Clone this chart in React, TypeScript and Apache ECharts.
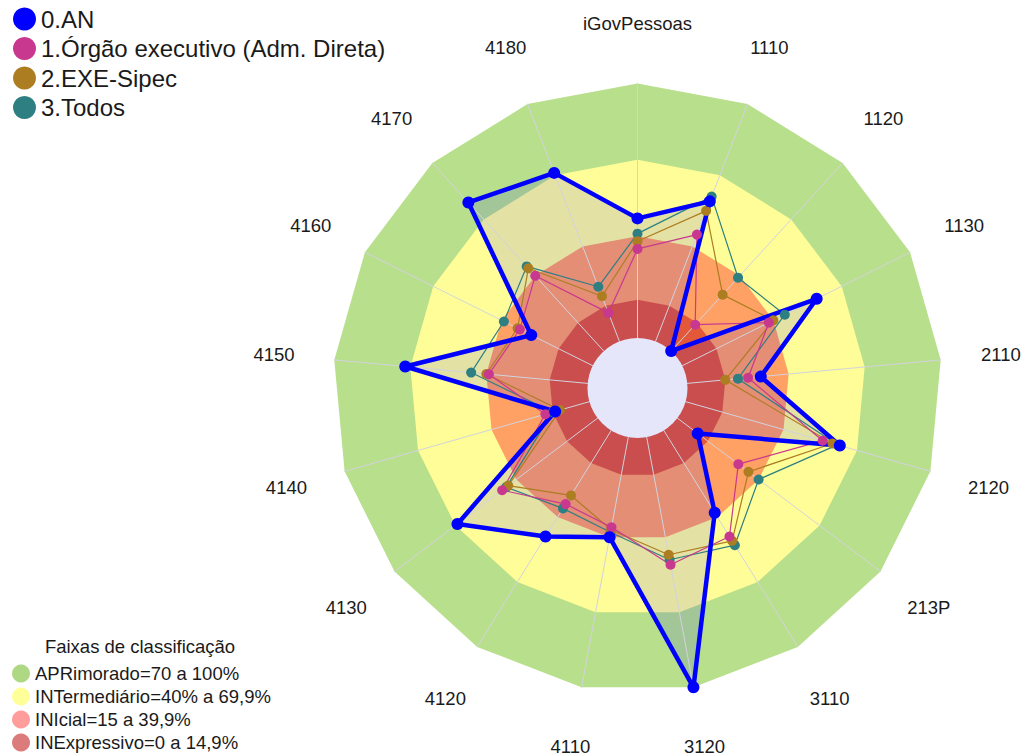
import React, { useEffect, useRef } from "react";
import * as echarts from "echarts";

// Axis categories, clockwise from the top
const categories = [
  "iGovPessoas", "1110", "1120", "1130", "2110", "2120", "213P", "3110", "3120",
  "4110", "4120", "4130", "4140", "4150", "4160", "4170", "4180",
];

const seriesNames = ["0.AN", "1.Órgão executivo (Adm. Direta)", "2.EXE-Sipec", "3.Todos"];
const seriesColors = ["#0000FF", "#C9388F", "#AD7D22", "#2E7F82"];

// values (%) in the same order as categories
const valuesAN = [47, 59, 0, 59, 29, 63, 10, 38, 100, 40, 49, 69, 14, 72, 27, 79, 71];
const valuesOrgao = [35, 45, 14, 38, 24, 56, 30, 49, 51, 36, 34, 47, 18, 39, 32, 40, 12];
const valuesSipec = [38, 55, 30, 40, 15, 60, 35, 51, 47, 37, 30, 44, 12, 40, 33, 44, 19];
const valuesTodos = [41, 61, 39, 45, 20, 62, 40, 53, 49, 38, 36, 45, 15, 46, 39, 45, 23];

// classification bands
const bandNames = [
  "APRimorado=70 a 100%",
  "INTermediário=40% a 69,9%",
  "INIcial=15 a 39,9%",
  "INExpressivo=0 a 14,9%",
];
const bandUpper = [100, 70, 40, 15];
const bandFill = ["#B8DF8C", "#FFFD98", "#FFA064", "#E35838"];
const bandLegendColors = ["#AED883", "#FFFF99", "#FF9C9C", "#DB7B7B"];
const bandTitle = "Faixas de classificação";

const CX = 637.5;
const CY = 388;
const R0 = 50;
const R1 = 304.5;
const LABEL_R = 365;
const FONT = "'Liberation Sans', Arial, Helvetica, sans-serif";

export default function App() {
  const ref = useRef<HTMLDivElement>(null);

  useEffect(() => {
    if (!ref.current) return;
    const chart = echarts.init(ref.current, undefined, { renderer: "svg" });
    const n = categories.length;
    // ECharts radar runs counter-clockwise, so reverse everything after the first axis
    const order = categories.map((_, i) => (i === 0 ? 0 : n - i));
    const reorder = (arr: number[]) => order.map((i) => arr[i]);

    const bandSeries = bandNames.map((name, b) => ({
      type: "radar",
      z: 1,
      silent: true,
      symbol: "none",
      lineStyle: { width: 0, opacity: 0 },
      itemStyle: { color: bandFill[b] },
      areaStyle: { color: bandFill[b], opacity: 1 },
      data: [{ name, value: categories.map(() => bandUpper[b]) }],
    }));

    const dataVals = [valuesAN, valuesOrgao, valuesSipec, valuesTodos];
    const drawOrder = [3, 2, 1, 0];
    const dataSeries = drawOrder.map((s) => ({
      type: "radar",
      z: 3,
      silent: true,
      symbol: "circle",
      symbolSize: s === 0 ? 12 : 10,
      lineStyle: { width: s === 0 ? 4.5 : 1.2, color: seriesColors[s] },
      itemStyle: { color: seriesColors[s] },
      data: [{ name: seriesNames[s], value: reorder(dataVals[s]) }],
    }));

    const labelGraphics = categories.map((c, i) => {
      const a = (i * 2 * Math.PI) / n;
      return {
        type: "text",
        x: CX + LABEL_R * Math.sin(a),
        y: CY - LABEL_R * Math.cos(a),
        style: {
          text: c,
          fill: "#1a1a1a",
          font: `18.5px ${FONT}`,
          textAlign: "center",
          textVerticalAlign: "middle",
        },
        silent: true,
      };
    });

    chart.setOption({
      animation: false,
      backgroundColor: "#ffffff",
      radar: {
        center: [CX, CY],
        radius: [R0, R1],
        startAngle: 90,
        shape: "polygon",
        z: 2,
        indicator: order.map((i) => ({ name: categories[i], min: 0, max: 100 })),
        axisName: { show: false },
        splitNumber: 1,
        splitLine: { show: false },
        splitArea: { show: false },
        axisLine: { lineStyle: { color: "#D3D3DF", width: 1 } },
        axisTick: { show: false },
        axisLabel: { show: false },
      },
      legend: [
        {
          data: seriesNames,
          orient: "vertical",
          left: 8,
          top: 2,
          icon: "circle",
          itemWidth: 23,
          itemHeight: 23,
          itemGap: 5.5,
          selectedMode: false,
          textStyle: { fontSize: 24, color: "#1a1a1a", fontFamily: FONT },
        },
        {
          data: bandNames.map((name, i) => ({
            name,
            itemStyle: { color: bandLegendColors[i], borderWidth: 0 },
          })),
          orient: "vertical",
          left: 7,
          top: 659,
          height: 140,
          icon: "circle",
          itemWidth: 18,
          itemHeight: 18,
          itemGap: 4,
          selectedMode: false,
          textStyle: { fontSize: 18.5, lineHeight: 18, color: "#1a1a1a", fontFamily: FONT },
        },
      ],
      graphic: [
        ...labelGraphics,
        {
          type: "text",
          x: 140,
          y: 646,
          style: {
            text: bandTitle,
            fill: "#1a1a1a",
            font: `18.5px ${FONT}`,
            textAlign: "center",
            textVerticalAlign: "middle",
          },
          silent: true,
        },
      ],
      series: [
        ...bandSeries,
        {
          type: "radar",
          z: 1,
          silent: true,
          symbol: "none",
          lineStyle: { width: 0, opacity: 0 },
          areaStyle: { color: "#0000FF", opacity: 0.11 },
          data: [{ name: "0.AN (área)", value: reorder(valuesAN) }],
        },
        {
          type: "pie",
          z: 2,
          silent: true,
          center: [CX, CY],
          radius: [0, R0],
          label: { show: false },
          labelLine: { show: false },
          itemStyle: { color: "#E6E6FA", borderWidth: 0 },
          data: [{ name: "centro", value: 1 }],
        },
        ...dataSeries,
      ],
    });

    return () => chart.dispose();
  }, []);

  return (
    <div
      ref={ref}
      style={{ position: "fixed", left: 0, top: 0, width: 1022, height: 756 }}
    />
  );
}
